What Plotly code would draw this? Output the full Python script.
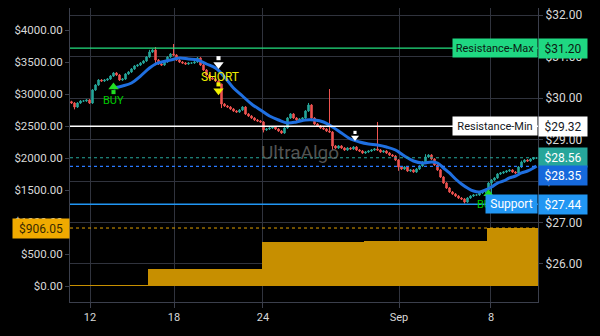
import plotly.graph_objects as go

# ---------------- data ----------------
closes = [2859, 2797, 2859, 2891, 2891, 2906, 2859, 3063, 3141, 3219,
          3203, 3219, 3234, 3281, 3328, 3297, 3219, 3234, 3313, 3344,
          3391, 3438, 3453, 3484, 3516, 3578, 3656, 3688, 3531, 3469,
          3453, 3500, 3578, 3625, 3609, 3531, 3500, 3484, 3469, 3484,
          3484, 3500, 3563, 3453, 3375, 3297, 3250, 3234, 3203, 3156,
          2844, 2813, 2797, 2766, 2734, 2719, 2750, 2797, 2688, 2656,
          2625, 2594, 2578, 2563, 2438, 2453, 2469, 2484, 2453, 2422,
          2391, 2469, 2625, 2688, 2625, 2594, 2609, 2625, 2734, 2828,
          2625, 2531, 2500, 2469, 2453, 2422, 2406, 2188, 2156, 2188,
          2156, 2125, 2156, 2141, 2172, 2125, 2109, 2078, 2094, 2109,
          2125, 2141, 2125, 2094, 2109, 2078, 2047, 2031, 1969, 1859,
          1828, 1859, 1797, 1813, 1781, 1828, 1875, 1938, 2016, 2047,
          1984, 1891, 1813, 1703, 1609, 1531, 1469, 1438, 1406, 1375,
          1359, 1313, 1375, 1406, 1422, 1422, 1453, 1469, 1500, 1609,
          1656, 1688, 1750, 1766, 1781, 1797, 1813, 1781, 1766, 1859,
          1938, 1969, 1953, 1984, 2000, 2000]
first_open = 2880
spike_high = {26: 3690, 28: 3734, 34: 3781, 50: 3160, 72: 2640, 79: 2860,
              86: 3078, 102: 2563, 118: 2060, 150: 1960}
spike_low = {1: 2760, 28: 3450, 50: 2780, 64: 2400, 87: 2130, 109: 1800,
             131: 1290, 140: 1375}

ma_idx = [14, 17, 20, 23, 26, 28, 30, 33, 36, 39, 42, 45, 48, 51, 54, 57, 60,
          63, 66, 69, 72, 75, 78, 81, 84, 87, 90, 93, 96, 99, 102, 105, 108,
          111, 114, 117, 120, 122, 124, 126, 128, 130, 132, 134, 136, 138,
          140, 142, 144, 146, 148, 150, 152, 154, 155]
ma_val = [3094, 3125, 3172, 3281, 3406, 3469, 3500, 3531, 3563, 3547, 3531,
          3469, 3406, 3266, 3094, 2969, 2844, 2750, 2656, 2594, 2547, 2563,
          2594, 2594, 2563, 2484, 2391, 2297, 2250, 2219, 2203, 2172, 2125,
          2031, 1953, 1922, 1938, 1922, 1844, 1766, 1672, 1594, 1531, 1484,
          1469, 1500, 1547, 1609, 1641, 1688, 1719, 1766, 1797, 1844, 1875]

# step bars (equity) : segments (start index, end index, value)
equity_segments = [(0, 25, 5), (26, 63, 266), (64, 97, 688), (98, 138, 703), (139, 155, 906.05)]

resist_max = 31.20
resist_min = 29.32
support = 27.44
last_price = 28.56
ma_last = 28.35
equity_last = 906.05

left_ticks = [0, 500, 1000, 1500, 2000, 2500, 3000, 3500, 4000]
right_ticks = [26, 27, 28, 29, 30, 31, 32]
tick_pos = [6.17, 34.17, 63.83, 109.17, 139.83]
tick_text = ["12", "18", "24", "Sep", "8"]

# ---------------- build ----------------
n = len(closes)
idx = list(range(n))
opens = [first_open] + closes[:-1]
wick = 14
highs = [spike_high.get(i, max(o, c) + wick) for i, (o, c) in enumerate(zip(opens, closes))]
lows = [spike_low.get(i, min(o, c) - wick) for i, (o, c) in enumerate(zip(opens, closes))]

eq_vals = []
for s, e, v in equity_segments:
    eq_vals += [v] * (e - s + 1)

fig = go.Figure()
fig.add_trace(go.Bar(x=idx, y=eq_vals, marker=dict(color="#c78f00", line=dict(width=0)),
                     width=1.0, yaxis="y", hoverinfo="skip"))
fig.add_trace(go.Candlestick(x=idx, open=opens, high=highs, low=lows, close=closes,
                             increasing=dict(line=dict(color="#26a69a", width=1), fillcolor="#26a69a"),
                             decreasing=dict(line=dict(color="#ef5350", width=1), fillcolor="#ef5350"),
                             yaxis="y"))
fig.add_trace(go.Scatter(x=ma_idx, y=ma_val, mode="lines", line=dict(color="#1f6fe0", width=3, shape="spline"),
                         yaxis="y"))

# signal arrows (shaft + head)
def arrow(x, y_shaft, y_head, color, up, size=9):
    fig.add_trace(go.Scatter(x=[x], y=[y_shaft], mode="markers", yaxis="y",
                             marker=dict(symbol="square", size=size * 0.45, color=color, line=dict(width=0))))
    fig.add_trace(go.Scatter(x=[x], y=[y_head], mode="markers", yaxis="y",
                             marker=dict(symbol="triangle-up" if up else "triangle-down", size=size,
                                         color=color, line=dict(width=0))))

arrow(14, 3030, 3110, "#22dd22", True)
arrow(49, 3560, 3460, "#ffffff", False)
arrow(49, 3150, 3050, "#f2f200", False)
arrow(94.5, 2400, 2320, "#ffffff", False, size=7)
arrow(139, 1350, 1440, "#22dd22", True)

shapes = [
    dict(type="line", xref="paper", x0=0, x1=1, yref="y2", y0=resist_max, y1=resist_max,
         line=dict(color="#22e07f", width=1.2)),
    dict(type="line", xref="paper", x0=0, x1=1, yref="y2", y0=resist_min, y1=resist_min,
         line=dict(color="#ffffff", width=1.5)),
    dict(type="line", xref="paper", x0=0, x1=1, yref="y2", y0=support, y1=support,
         line=dict(color="#2196f3", width=1.5)),
    dict(type="line", xref="paper", x0=0, x1=1, yref="y2", y0=last_price, y1=last_price,
         line=dict(color="#26a69a", width=1.2, dash="dot")),
    dict(type="line", xref="paper", x0=0, x1=1, yref="y2", y0=ma_last, y1=ma_last,
         line=dict(color="#2979ff", width=1.2, dash="dot")),
    dict(type="line", xref="paper", x0=0, x1=1, yref="y", y0=equity_last, y1=equity_last,
         line=dict(color="#e0a000", width=1, dash="dot")),
]

lbl_font = dict(family="Roboto, Noto Sans, sans-serif", size=12)
annotations = [
    dict(text="UltraAlgo", xref="paper", yref="paper", x=0.4915, y=0.51, showarrow=False,
         font=dict(family="Roboto, sans-serif", size=19, color="rgba(110,110,110,0.75)")),
    dict(text="BUY", x=14, y=2900, xref="x", yref="y", showarrow=False,
         font=dict(family="Roboto, sans-serif", size=11, color="#00cc00")),
    dict(text="SHORT", x=49.5, y=3270, xref="x", yref="y", showarrow=False,
         font=dict(family="Roboto, sans-serif", size=12, color="#eeee00")),
    dict(text="BUY", x=138.5, y=1270, xref="x", yref="y", showarrow=False,
         font=dict(family="Roboto, sans-serif", size=11, color="#00cc00")),
    # line labels inside plot
    dict(text="Resistance-Max", xref="paper", x=1, xanchor="right", yref="y2", y=resist_max,
         showarrow=False, bgcolor="#1fd882", font=dict(family="Roboto, sans-serif", size=11, color="#0b1a12"),
         width=80, height=14, borderpad=2),
    dict(text="Resistance-Min", xref="paper", x=1, xanchor="right", yref="y2", y=resist_min,
         showarrow=False, bgcolor="#ffffff", font=dict(family="Roboto, sans-serif", size=11, color="#131722"),
         width=80, height=14, borderpad=2),
    dict(text="Support", xref="paper", x=1, xanchor="right", yref="y2", y=support,
         showarrow=False, bgcolor="#2196f3", font=dict(family="Roboto, sans-serif", size=12, color="#ffffff"),
         width=47, height=14, borderpad=2),
    # right axis value labels
    dict(text="$%.2f" % resist_max, xref="paper", x=1, xanchor="left", yref="y2", y=resist_max,
         showarrow=False, bgcolor="#1fd882", font=dict(lbl_font, color="#0b1a12"), width=44, height=15, borderpad=2),
    dict(text="$%.2f" % resist_min, xref="paper", x=1, xanchor="left", yref="y2", y=resist_min,
         showarrow=False, bgcolor="#ffffff", font=dict(lbl_font, color="#131722"), width=44, height=15, borderpad=2),
    dict(text="$%.2f" % last_price, xref="paper", x=1, xanchor="left", yref="y2", y=last_price,
         showarrow=False, bgcolor="#26a69a", font=dict(lbl_font, color="#ffffff"), width=44, height=15, borderpad=2),
    dict(text="$%.2f" % ma_last, xref="paper", x=1, xanchor="left", yref="y2", y=ma_last, yshift=-9,
         showarrow=False, bgcolor="#1669dc", font=dict(lbl_font, color="#ffffff"), width=44, height=15, borderpad=2),
    dict(text="$%.2f" % support, xref="paper", x=1, xanchor="left", yref="y2", y=support,
         showarrow=False, bgcolor="#2196f3", font=dict(lbl_font, color="#ffffff"), width=44, height=15, borderpad=2),
    dict(text="$%.2f" % equity_last, xref="paper", x=0, xanchor="right", yref="y", y=equity_last,
         showarrow=False, bgcolor="#f0aa00", font=dict(lbl_font, color="#3a2a00"), width=52, height=15, borderpad=2),
]

axis_font = dict(family="Roboto, Noto Sans, sans-serif", size=11, color="#d8d8d8")
grid = "#30333d"
fig.update_layout(
    width=600, height=336,
    margin=dict(l=70, r=62, t=8, b=34),
    paper_bgcolor="#000000", plot_bgcolor="#000000",
    showlegend=False, bargap=0,
    shapes=shapes, annotations=annotations,
    xaxis=dict(range=[-0.5, n - 0.5], tickvals=tick_pos, ticktext=tick_text, showgrid=True,
               gridcolor=grid, gridwidth=1, rangeslider=dict(visible=False), tickfont=axis_font,
               ticks="outside", ticklen=5, tickcolor="#3b3f4c", showline=True, linecolor="#3b3f4c",
               zeroline=False, fixedrange=True),
    yaxis=dict(range=[-250, 4344], tickvals=left_ticks, ticktext=["$%.2f" % v for v in left_ticks],
               showgrid=False, zeroline=False, tickfont=dict(axis_font, size=11.5),
               ticks="outside", ticklen=4, tickcolor="#3b3f4c", showline=True, linecolor="#3b3f4c"),
    yaxis2=dict(range=[25.084, 32.169], overlaying="y", side="right",
                tickvals=right_ticks, ticktext=["$%.2f" % v for v in right_ticks],
                showgrid=True, gridcolor=grid, zeroline=False, tickfont=dict(axis_font, size=12),
                ticks="outside", ticklen=4, tickcolor="#3b3f4c", showline=True, linecolor="#3b3f4c"),
)
# invisible trace to activate y2
fig.add_trace(go.Scatter(x=[0], y=[30], yaxis="y2", mode="markers", marker=dict(opacity=0), hoverinfo="skip"))

fig.write_html("out.html")
